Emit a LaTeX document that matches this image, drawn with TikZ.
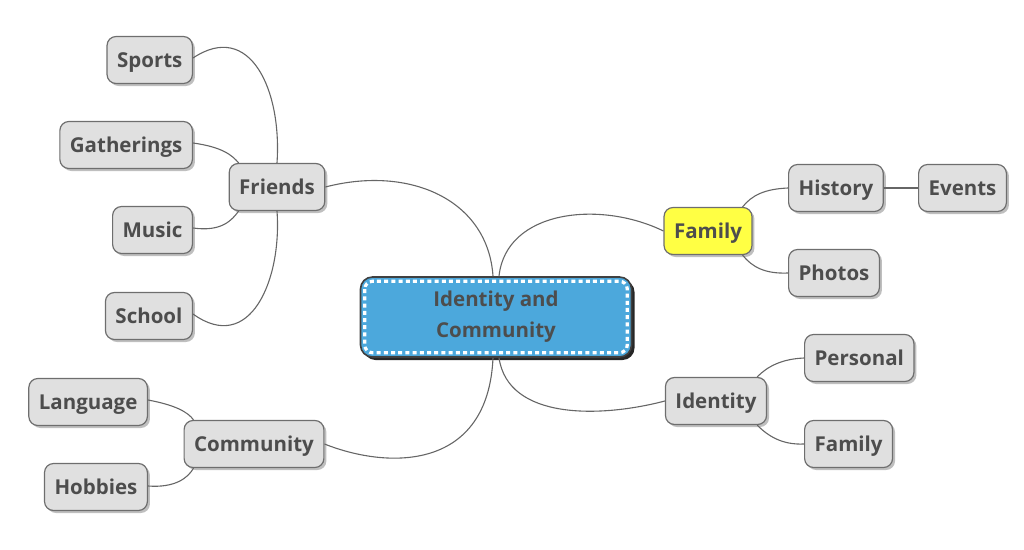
\documentclass[tikz,border=0pt]{standalone}
\usepackage{fontspec}
\setmainfont{Open Sans}
\usetikzlibrary{shadows}
\definecolor{txt}{HTML}{4D4D4D}
\definecolor{leaffill}{HTML}{E0E0E0}
\definecolor{leafline}{HTML}{6E6E6E}
\definecolor{centerfill}{HTML}{4CA8DC}
\definecolor{famfill}{HTML}{FFFF44}
\definecolor{conn}{HTML}{666666}
\begin{document}
\begin{tikzpicture}[x=1pt,y=-1pt,
  box/.style={draw=leafline, line width=1.2pt, fill=leaffill, rounded corners=9pt,
    minimum height=47pt, inner xsep=10pt, text=txt, text height=15pt, text depth=0.5pt,
    font=\fontsize{20.5}{25}\selectfont\bfseries,
    drop shadow={shadow xshift=2.5pt, shadow yshift=-2.5pt, fill=black, opacity=0.25}},
  centerbox/.style={draw=black!75, line width=1.6pt, fill=centerfill, rounded corners=12pt,
    minimum width=271pt, minimum height=80pt, text=txt, align=center,
    font=\fontsize{20.5}{31}\selectfont\bfseries,
    drop shadow={shadow xshift=3pt, shadow yshift=-3pt, fill=black, opacity=0.85}},
  link/.style={draw=conn, line width=1.1pt}
]
\useasboundingbox (0,0) rectangle (1024,549);
% central
\node[centerbox] (c) at (496,317) {Identity and\\Community};
\draw[white, line width=3.2pt, dash pattern=on 4pt off 3.2pt, rounded corners=8pt]
  ([shift={(5,5)}]c.north west) rectangle ([shift={(-5,-5)}]c.south east);
% left side
\node[box] (friends) at (277,187) {Friends};
\node[box, anchor=east] (sports) at (193,60) {Sports};
\node[box, anchor=east] (gath) at (193,145) {Gatherings};
\node[box, anchor=east] (music) at (193,230) {Music};
\node[box, anchor=east] (school) at (193,316) {School};
\node[box] (comm) at (254,444) {Community};
\node[box, anchor=east] (lang) at (148,402) {Language};
\node[box, anchor=east] (hob) at (148,487) {Hobbies};
% right side
\node[box, fill=famfill] (family) at (708,231) {Family};
\node[box, anchor=west] (hist) at (788,188) {History};
\node[box, anchor=west] (events) at (918,188) {Events};
\node[box, anchor=west] (photos) at (788,273) {Photos};
\node[box] (ident) at (716,401) {Identity};
\node[box, anchor=west] (pers) at (804,358) {Personal};
\node[box, anchor=west] (fam2) at (804,444) {Family};
% connectors from center
\draw[link] ([xshift=-3pt]c.north) .. controls (488,200) and (410,165) .. (friends.east);
\draw[link] ([xshift=3pt]c.north) .. controls (506,210) and (600,200) .. (family.west);
\draw[link] ([xshift=-3pt]c.south) .. controls (488,470) and (390,470) .. (comm.east);
\draw[link] ([xshift=3pt]c.south) .. controls (508,420) and (600,418) .. (ident.west);
% friends children
\draw[link] ([yshift=2pt]sports.east) .. controls (250,20) and (282,90) .. (friends.north);
\draw[link] ([yshift=2pt]gath.east) .. controls (222,147) and (232,155) .. ([xshift=10pt]friends.north west);
\draw[link] ([yshift=2pt]music.east) .. controls (222,232) and (232,220) .. ([xshift=10pt]friends.south west);
\draw[link] ([yshift=2pt]school.east) .. controls (250,355) and (282,280) .. (friends.south);
% community children
\draw[link] ([yshift=2pt]lang.east) .. controls (175,405) and (188,412) .. ([xshift=10pt]comm.north west);
\draw[link] ([yshift=1pt]hob.east) .. controls (175,488) and (188,478) .. ([xshift=10pt]comm.south west);
% family children
\draw[link] ([xshift=-10pt]family.north east) .. controls (752,195) and (765,189) .. (hist.west);
\draw[link] ([xshift=-10pt]family.south east) .. controls (752,267) and (765,274) .. (photos.west);
\draw[link] (hist.east) -- (events.west);
% identity children
\draw[link] ([xshift=-10pt]ident.north east) .. controls (768,366) and (782,359) .. (pers.west);
\draw[link] ([xshift=-10pt]ident.south east) .. controls (768,436) and (782,445) .. (fam2.west);
\end{tikzpicture}
\end{document}
